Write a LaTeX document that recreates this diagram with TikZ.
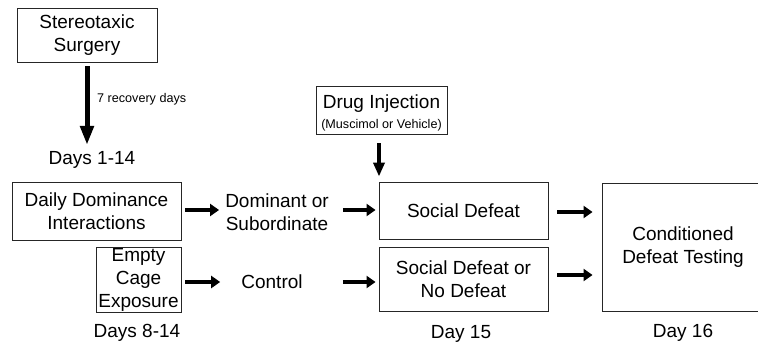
\documentclass[tikz,border=0pt]{standalone}
\usepackage{fontspec}
\setmainfont{Liberation Sans}
\usetikzlibrary{arrows.meta,calc}
\begin{document}
\begin{tikzpicture}[x=1pt,y=-1pt,
  box/.style={draw=black!85,line width=0.9pt,rectangle,inner sep=0pt,align=center,font=\fontsize{19}{23}\selectfont},
  lbl/.style={inner sep=0pt,align=center,font=\fontsize{19}{23}\selectfont},
  small/.style={inner sep=0pt,font=\fontsize{12.6}{15}\selectfont},
  harrow/.style={line width=4.2pt,-{Triangle[length=9pt,width=12pt]}},
  bigarrow/.style={line width=5pt,-{Triangle[length=19pt,width=13pt]}},
  varrow/.style={line width=4pt,-{Triangle[length=14pt,width=11pt]}}]
\useasboundingbox (0,0) rectangle (758,350);
% nodes
\node[box,minimum width=140pt,minimum height=54pt] (surg) at (87,35) {Stereotaxic\\Surgery};
\node[small,anchor=west] (recov) at (97,99) {7 recovery days};
\coordinate (a1) at (87,145);
\node[lbl] (d114) at (92,160) {Days 1-14};
\node[box,minimum width=169pt,minimum height=58pt] (ddi) at (96.5,211) {Daily Dominance\\Interactions};
\node[box,minimum width=85pt,minimum height=65pt] (ecx) at (138.5,279.5) {Empty\\Cage\\Exposure};
\node[lbl] (d814) at (137,333) {Days 8-14};
\node[lbl] (dom) at (277,212) {Dominant or\\Subordinate};
\node[lbl] (ctrl) at (272,282) {Control};
\node[draw=black!85,line width=0.9pt,minimum width=131pt,minimum height=48pt,inner sep=0pt] (drug) at (381.5,110) {};
\node[lbl] (drugt) at (381.5,104) {Drug Injection};
\node[small] (drugs) at (381.5,125) {(Muscimol or Vehicle)};
\node[box,minimum width=169pt,minimum height=57pt] (sd) at (463.5,210.5) {Social Defeat};
\node[box,minimum width=169pt,minimum height=64pt] (sdn) at (463.5,279) {Social Defeat or\\No Defeat};
\node[lbl] (d15) at (461,334) {Day 15};
\node[draw=black!85,line width=0.9pt,minimum width=163pt,minimum height=128pt,inner sep=0pt] (cdt) at (683.5,247) {};
\node[lbl] (cdtt) at (683,247) {Conditioned\\Defeat Testing};
\node[lbl] (d16) at (683,333) {Day 16};
% arrows
\draw[bigarrow,shorten <=4pt] (surg.south) -- (a1);
\draw[varrow,shorten <=9pt,shorten >=5pt] ([xshift=-2.5pt]drug.south) -- ([xshift=-2.5pt]drug.south |- sd.north);
\draw[harrow,shorten <=4pt,shorten >=6pt] ([yshift=1pt]ddi.east) -- ([yshift=1pt]ddi.east -| dom.west);
\draw[harrow,shorten <=14pt,shorten >=3pt] ([yshift=1pt]ddi.east -| dom.east) -- ([yshift=1pt]ddi.east -| sd.west);
\draw[harrow,shorten <=4pt,shorten >=21pt] ([yshift=-2.5pt]ecx.east) -- ([yshift=-2.5pt]ecx.east -| ctrl.west);
\draw[harrow,shorten <=40pt,shorten >=3pt] ([yshift=-2.5pt]ecx.east -| ctrl.east) -- ([yshift=-2.5pt]ecx.east -| sdn.west);
\draw[harrow,shorten <=9pt,shorten >=9pt] ([yshift=-1.5pt]sd.east) -- ([yshift=-1.5pt]sd.east -| cdt.west);
\draw[harrow,shorten <=9pt,shorten >=9pt] ([yshift=4pt]sdn.east) -- ([yshift=4pt]sdn.east -| cdt.west);
\end{tikzpicture}
\end{document}
